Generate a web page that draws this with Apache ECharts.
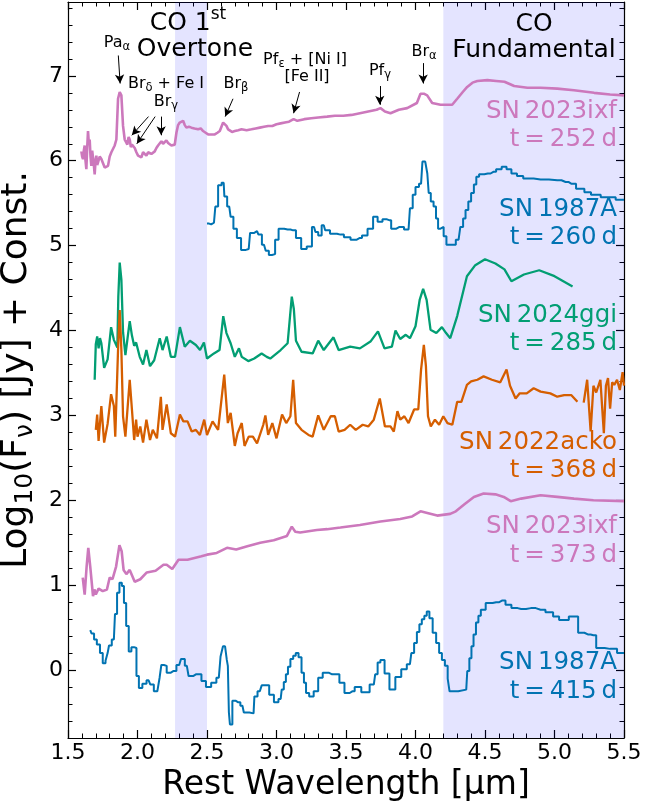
<!DOCTYPE html>
<html><head><meta charset="utf-8">
<script src="https://cdn.jsdelivr.net/npm/echarts@6/dist/echarts.min.js"></script>
<style>html,body{margin:0;padding:0;background:#fff}#c{width:668px;height:804px}</style>
</head><body><div id="c"></div>
<script>
// ---------------- DATA ----------------
const xTickValues = [1.5, 2.0, 2.5, 3.0, 3.5, 4.0, 4.5, 5.0, 5.5];
const yTickValues = [0, 1, 2, 3, 4, 5, 6, 7];
const coBands = [[2.27, 2.50], [4.20, 5.50]];

const sn2023ixf_252 = [[1.596,6.11],[1.602,6.05],[1.608,6.02],[1.614,6.12],[1.62,6.18],[1.626,6.00],[1.632,5.90],[1.638,6.15],[1.644,6.35],[1.65,6.20],[1.656,6.25],[1.662,6.05],[1.668,5.94],[1.674,6.12],[1.68,6.10],[1.686,5.95],[1.692,5.84],[1.698,6.00],[1.704,6.06],[1.71,5.95],[1.716,5.98],[1.728,6.05],[1.74,6.02],[1.752,5.97],[1.764,5.92],[1.776,5.90],[1.788,5.94],[1.80,6.05],[1.812,6.10],[1.824,6.12],[1.836,6.18],[1.848,6.25],[1.86,6.73],[1.872,6.81],[1.884,6.77],[1.896,6.41],[1.908,6.25],[1.918,6.22],[1.927,6.19],[1.936,6.28],[1.944,6.25],[1.952,6.16],[1.96,6.19],[1.97,6.20],[1.98,6.15],[1.992,6.10],[2.004,6.06],[2.016,6.07],[2.028,6.04],[2.04,6.10],[2.052,6.08],[2.064,6.06],[2.076,6.10],[2.088,6.12],[2.10,6.08],[2.112,6.10],[2.124,6.11],[2.136,6.15],[2.148,6.18],[2.16,6.16],[2.172,6.23],[2.184,6.20],[2.196,6.19],[2.208,6.24],[2.22,6.21],[2.232,6.22],[2.244,6.18],[2.256,6.20],[2.268,6.19],[2.28,6.33],[2.292,6.42],[2.304,6.45],[2.316,6.47],[2.328,6.47],[2.34,6.42],[2.352,6.39],[2.37,6.40],[2.388,6.39],[2.41,6.38],[2.436,6.37],[2.455,6.38],[2.472,6.35],[2.49,6.33],[2.508,6.31],[2.53,6.31],[2.556,6.31],[2.575,6.33],[2.592,6.35],[2.604,6.40],[2.616,6.45],[2.628,6.44],[2.64,6.41],[2.652,6.37],[2.664,6.35],[2.68,6.34],[2.70,6.35],[2.725,6.36],[2.748,6.37],[2.785,6.36],[2.82,6.37],[2.85,6.38],[2.88,6.39],[2.91,6.40],[2.94,6.41],[2.97,6.41],[3.0,6.43],[3.03,6.44],[3.06,6.45],[3.09,6.46],[3.123,6.49],[3.15,6.47],[3.2,6.49],[3.25,6.50],[3.3,6.51],[3.364,6.52],[3.42,6.53],[3.48,6.53],[3.54,6.54],[3.60,6.56],[3.66,6.58],[3.72,6.60],[3.748,6.62],[3.78,6.58],[3.82,6.56],[3.88,6.60],[3.94,6.62],[4.01,6.68],[4.036,6.79],[4.06,6.79],[4.084,6.77],[4.12,6.68],[4.18,6.66],[4.23,6.66],[4.264,6.66],[4.30,6.73],[4.34,6.81],[4.372,6.87],[4.41,6.92],[4.445,6.94],[4.517,6.95],[4.58,6.94],[4.64,6.93],[4.71,6.88],[4.805,6.86],[4.9,6.86],[5.02,6.85],[5.14,6.83],[5.285,6.80],[5.4,6.78],[5.50,6.77]];

const sn1987A_260 = [[2.50,5.26],[2.53,5.25],[2.55,5.27],[2.57,5.46],[2.59,5.71],[2.62,5.74],[2.63,5.58],[2.66,5.46],[2.68,5.34],[2.70,5.20],[2.73,5.09],[2.76,4.95],[2.80,4.96],[2.82,5.15],[2.86,5.17],[2.88,5.13],[2.91,5.01],[2.935,4.94],[2.955,4.89],[2.98,4.90],[3.00,5.07],[3.03,5.20],[3.08,5.19],[3.12,5.18],[3.16,5.09],[3.195,4.96],[3.24,4.99],[3.27,5.22],[3.29,5.16],[3.31,5.12],[3.34,5.24],[3.36,5.18],[3.41,5.14],[3.46,5.13],[3.51,5.10],[3.555,5.07],[3.60,5.09],[3.63,5.12],[3.68,5.20],[3.71,5.34],[3.745,5.28],[3.78,5.31],[3.81,5.30],[3.84,5.20],[3.885,5.22],[3.95,5.19],[3.97,5.44],[3.99,5.60],[4.01,5.69],[4.04,5.73],[4.06,5.99],[4.08,5.99],[4.09,5.85],[4.10,5.62],[4.12,5.52],[4.14,5.46],[4.155,5.32],[4.17,5.20],[4.19,5.22],[4.215,5.11],[4.23,5.01],[4.27,5.01],[4.31,5.07],[4.335,5.22],[4.35,5.32],[4.37,5.42],[4.39,5.52],[4.41,5.62],[4.43,5.72],[4.445,5.81],[4.47,5.84],[4.52,5.85],[4.56,5.87],[4.60,5.90],[4.64,5.93],[4.67,5.90],[4.71,5.85],[4.75,5.82],[4.80,5.79],[4.90,5.78],[5.02,5.77],[5.08,5.75],[5.12,5.73],[5.19,5.67],[5.24,5.63],[5.285,5.60],[5.38,5.57],[5.50,5.54]];

const sn2024ggi_285 = [[1.692,3.42],[1.70,3.84],[1.71,3.93],[1.72,3.79],[1.73,3.91],[1.74,3.85],[1.76,3.56],[1.785,3.66],[1.81,4.04],[1.83,3.89],[1.855,3.80],[1.862,4.40],[1.872,4.80],[1.884,4.60],[1.896,3.98],[1.913,3.71],[1.944,4.11],[1.96,3.94],[1.976,3.82],[1.99,3.86],[2.016,3.69],[2.04,3.60],[2.064,3.77],[2.09,3.58],[2.12,3.65],[2.16,3.91],[2.18,3.77],[2.21,3.93],[2.24,3.69],[2.27,3.69],[2.305,4.04],[2.34,3.81],[2.377,3.88],[2.42,3.83],[2.45,3.77],[2.478,3.86],[2.50,3.67],[2.55,3.73],[2.59,3.77],[2.617,4.17],[2.64,3.97],[2.67,3.85],[2.70,3.69],[2.73,3.79],[2.75,3.69],[2.797,3.64],[2.84,3.67],[2.893,3.73],[2.93,3.69],[2.955,3.67],[3.03,3.77],[3.08,3.85],[3.11,4.40],[3.125,4.25],[3.14,3.88],[3.18,3.75],[3.26,3.73],[3.30,3.88],[3.34,3.77],[3.41,3.92],[3.447,3.77],[3.53,3.81],[3.60,3.79],[3.676,3.87],[3.73,3.99],[3.777,3.79],[3.83,3.81],[3.856,4.00],[3.89,3.90],[3.93,3.95],[3.96,3.91],[4.0,4.05],[4.03,4.36],[4.055,4.49],[4.08,4.36],[4.108,4.01],[4.15,3.97],[4.19,4.04],[4.22,3.97],[4.25,3.91],[4.30,4.17],[4.37,4.64],[4.43,4.77],[4.50,4.84],[4.575,4.79],[4.64,4.72],[4.69,4.58],[4.78,4.66],[4.89,4.71],[5.00,4.64],[5.13,4.52]];

const sn2022acko_368 = [[1.70,2.83],[1.71,3.01],[1.72,2.70],[1.74,3.11],[1.76,2.68],[1.785,2.90],[1.81,3.25],[1.83,3.11],[1.84,2.75],[1.86,3.77],[1.872,4.24],[1.884,3.77],[1.896,2.99],[1.913,2.75],[1.944,3.42],[1.96,3.07],[1.976,2.71],[1.99,2.95],[2.00,2.75],[2.02,2.87],[2.04,2.68],[2.064,2.95],[2.09,2.71],[2.11,2.83],[2.14,2.73],[2.168,3.22],[2.18,2.83],[2.21,3.13],[2.24,2.79],[2.27,2.75],[2.305,3.01],[2.33,2.93],[2.36,2.93],[2.39,2.81],[2.42,2.83],[2.449,2.77],[2.48,2.95],[2.50,2.77],[2.54,2.93],[2.58,2.83],[2.624,3.48],[2.65,2.91],[2.67,3.03],[2.70,2.64],[2.72,2.79],[2.75,2.91],[2.77,2.64],[2.80,2.75],[2.83,2.75],[2.86,2.67],[2.905,2.89],[2.92,3.00],[2.94,2.77],[2.97,2.91],[3.0,2.73],[3.04,3.01],[3.07,2.91],[3.10,2.99],[3.12,3.42],[3.14,2.91],[3.18,2.83],[3.23,2.77],[3.26,2.75],[3.30,3.00],[3.34,2.83],[3.39,2.99],[3.42,2.99],[3.447,2.81],[3.49,2.83],[3.53,2.89],[3.57,2.83],[3.62,2.89],[3.66,2.87],[3.70,2.95],[3.743,3.20],[3.78,2.87],[3.82,2.87],[3.844,2.81],[3.87,3.05],[3.89,2.95],[3.92,2.99],[3.95,2.91],[3.99,3.07],[4.02,3.07],[4.04,3.54],[4.06,3.83],[4.075,3.58],[4.09,2.99],[4.11,2.87],[4.14,2.95],[4.17,2.89],[4.20,2.99],[4.23,2.91],[4.265,2.89],[4.30,3.16],[4.33,3.16],[4.37,3.36],[4.40,3.40],[4.445,3.42],[4.49,3.46],[4.55,3.42],[4.61,3.39],[4.655,3.54],[4.68,3.35],[4.72,3.20],[4.75,3.26],[4.80,3.26],[4.85,3.32],[4.90,3.28],[4.97,3.26],[5.02,3.22],[5.07,3.24],[5.12,3.24],[5.165,3.16],[5.19,'-'],[5.21,3.15],[5.235,3.42],[5.26,2.81],[5.28,3.35],[5.30,3.27],[5.33,3.42],[5.355,2.79],[5.37,3.35],[5.385,3.44],[5.40,3.08],[5.415,3.39],[5.43,3.36],[5.45,3.42],[5.47,3.30],[5.49,3.51],[5.50,3.35]];

const sn2023ixf_373 = [[1.606,1.09],[1.62,0.89],[1.634,1.22],[1.646,1.44],[1.66,1.22],[1.68,0.87],[1.69,0.95],[1.70,0.89],[1.72,0.96],[1.75,0.93],[1.78,0.95],[1.80,1.09],[1.82,1.07],[1.846,1.22],[1.87,1.47],[1.886,1.40],[1.90,1.18],[1.92,1.13],[1.944,1.18],[1.98,1.04],[2.02,1.07],[2.067,1.15],[2.13,1.17],[2.187,1.24],[2.21,1.24],[2.25,1.19],[2.295,1.30],[2.36,1.30],[2.41,1.32],[2.46,1.34],[2.50,1.36],[2.57,1.38],[2.644,1.44],[2.71,1.42],[2.79,1.46],[2.883,1.50],[2.98,1.53],[3.075,1.58],[3.11,1.69],[3.135,1.63],[3.17,1.62],[3.29,1.65],[3.364,1.66],[3.46,1.68],[3.60,1.71],[3.748,1.75],[3.89,1.78],[3.976,1.81],[4.036,1.87],[4.085,1.85],[4.156,1.82],[4.25,1.84],[4.29,1.87],[4.35,1.95],[4.42,2.04],[4.49,2.08],[4.575,2.07],[4.635,2.04],[4.685,1.99],[4.76,2.02],[4.90,2.06],[5.02,2.04],[5.14,2.02],[5.28,2.00],[5.50,1.99]];

const sn1987A_415 = [[1.66,0.47],[1.68,0.43],[1.695,0.36],[1.72,0.30],[1.74,0.20],[1.76,0.08],[1.78,0.11],[1.79,0.20],[1.80,0.29],[1.83,0.36],[1.846,0.66],[1.86,0.91],[1.88,1.03],[1.895,0.99],[1.91,0.79],[1.927,0.52],[1.947,0.22],[1.965,0.27],[1.985,0.26],[2.0,-0.07],[2.02,-0.21],[2.05,-0.16],[2.08,-0.12],[2.105,-0.17],[2.13,-0.25],[2.155,-0.25],[2.163,-0.09],[2.18,0.06],[2.20,0.05],[2.22,-0.03],[2.26,-0.01],[2.30,0.06],[2.326,0.13],[2.355,0.05],[2.38,-0.07],[2.42,-0.05],[2.445,-0.05],[2.475,-0.13],[2.51,-0.20],[2.55,-0.15],[2.585,-0.09],[2.61,0.16],[2.62,0.28],[2.64,0.28],[2.645,0.12],[2.655,0.05],[2.66,-0.50],[2.67,-0.64],[2.68,-0.64],[2.685,-0.36],[2.725,-0.38],[2.755,-0.42],[2.775,-0.50],[2.835,-0.51],[2.847,-0.31],[2.88,-0.25],[2.907,-0.18],[2.93,-0.18],[2.965,-0.29],[2.998,-0.38],[3.03,-0.34],[3.045,-0.23],[3.06,-0.14],[3.075,-0.05],[3.09,0.04],[3.11,0.13],[3.13,0.17],[3.147,0.20],[3.17,0.15],[3.19,-0.03],[3.205,-0.15],[3.22,-0.27],[3.25,-0.31],[3.285,-0.25],[3.315,-0.09],[3.35,-0.03],[3.40,-0.05],[3.435,-0.05],[3.47,-0.15],[3.508,-0.27],[3.545,-0.25],[3.58,-0.20],[3.64,-0.26],[3.70,-0.17],[3.72,-0.05],[3.735,0.09],[3.76,0.12],[3.795,-0.04],[3.83,-0.23],[3.88,-0.08],[3.915,0.01],[3.96,0.07],[3.98,0.20],[4.0,0.32],[4.02,0.45],[4.036,0.54],[4.055,0.60],[4.072,0.64],[4.09,0.69],[4.11,0.61],[4.137,0.44],[4.16,0.32],[4.18,0.20],[4.20,0.12],[4.223,0.05],[4.24,-0.10],[4.25,-0.25],[4.365,-0.23],[4.38,-0.01],[4.395,0.14],[4.41,0.28],[4.425,0.42],[4.445,0.56],[4.46,0.64],[4.48,0.71],[4.53,0.79],[4.58,0.80],[4.625,0.82],[4.67,0.77],[4.71,0.73],[4.76,0.72],[4.83,0.73],[4.90,0.71],[4.97,0.68],[5.01,0.63],[5.056,0.59],[5.15,0.63],[5.19,0.44],[5.24,0.42],[5.28,0.41],[5.32,0.26],[5.40,0.25],[5.50,0.20]];

// annotation arrows: [[xStart,yStart],[xEnd,yEnd]] in data units
const arrowSegs = [
  [[1.862,7.24],[1.875,6.91]],
  [[2.079,6.52],[1.959,6.30]],
  [[2.127,6.52],[1.995,6.20]],
  [[2.170,6.52],[2.170,6.30]],
  [[2.687,6.73],[2.631,6.52]],
  [[3.166,6.81],[3.123,6.56]],
  [[3.743,6.88],[3.743,6.66]],
  [[4.055,7.15],[4.055,6.91]]
];

const seriesNames = ['SN\u20092023ixf','SN\u20091987A','SN\u20092024ggi','SN\u20092022acko','SN\u20092023ixf','SN\u20091987A'];
const seriesEpochs = ['t\u2009=\u2009252\u2009d','t\u2009=\u2009260\u2009d','t\u2009=\u2009285\u2009d','t\u2009=\u2009368\u2009d','t\u2009=\u2009373\u2009d','t\u2009=\u2009415\u2009d'];

// ---------------- STYLE ----------------
const FONT = 'DejaVu Sans';
const PINK = '#CC78BC', BLUE = '#0173B2', GREEN = '#029E73', ORANGE = '#D55E00';
const curves = [
  {d: sn2023ixf_252, c: PINK, step: false, w: 2.6},
  {d: sn1987A_260, c: BLUE, step: 'middle', w: 2},
  {d: sn2024ggi_285, c: GREEN, step: false, w: 2.3},
  {d: sn2022acko_368, c: ORANGE, step: false, w: 2.3},
  {d: sn2023ixf_373, c: PINK, step: false, w: 2.6},
  {d: sn1987A_415, c: BLUE, step: 'middle', w: 2}
];
const labelColors = [PINK, BLUE, GREEN, ORANGE, PINK, BLUE];
const labelY = [[112,140],[210,238],[316,344],[443,471],[527,556],[663,692]];

const chart = echarts.init(document.getElementById('c'), null, {renderer: 'canvas'});

const axisLineStyle = {color: '#000', width: 1.2};
const isInt = v => Math.abs(v - Math.round(v)) < 1e-6;

const xBase = (pos, showLabel) => ({
  type: 'value', min: 1.5, max: 5.5, interval: 0.5, position: pos,
  axisLine: {show: true, onZero: false, lineStyle: axisLineStyle},
  axisTick: {show: true, inside: true, length: 8, lineStyle: {color: '#000', width: 1.2}},
  minorTick: {show: true, splitNumber: 5, length: 4.5, lineStyle: {color: '#000', width: 1}},
  splitLine: {show: false}, minorSplitLine: {show: false},
  axisLabel: {show: showLabel, customValues: xTickValues, formatter: v => v.toFixed(1), fontSize: 22, fontFamily: FONT, color: '#000', margin: 4}
});

const yMinor = (pos, showLabel) => ({
  type: 'value', min: -0.8, max: 7.87, interval: 0.2, position: pos,
  axisLine: {show: true, onZero: false, lineStyle: axisLineStyle},
  axisTick: {show: true, inside: true, length: 4.5, lineStyle: {color: '#000', width: 1}},
  splitLine: {show: false},
  axisLabel: {show: showLabel, fontSize: 22, fontFamily: FONT, color: '#000', margin: 5,
    formatter: v => isInt(v) ? String(Math.round(v)) : ''}
});
const yMajor = (pos) => ({
  type: 'value', min: -0.8, max: 7.87, position: pos,
  axisLine: {show: false},
  axisTick: {show: true, inside: true, length: 8, customValues: yTickValues, lineStyle: {color: '#000', width: 1.2}},
  splitLine: {show: false},
  axisLabel: {show: false}
});

const xAxes = [xBase('bottom', true), xBase('top', false)];
xAxes[0].name = 'Rest Wavelength [\u00b5m]';
xAxes[0].nameLocation = 'middle';
xAxes[0].nameGap = 26;
xAxes[0].nameTextStyle = {fontSize: 33, fontFamily: FONT, color: '#000'};

const yAxes = [yMinor('left', true), yMajor('left'), yMinor('right', false), yMajor('right')];
yAxes[0].name = '{n|Log}{s|10}{n|(F}{s|\u03bd}{n|) [Jy] + Const.}';
yAxes[0].nameLocation = 'middle';
yAxes[0].nameGap = 18;
yAxes[0].nameRotate = 90;
yAxes[0].nameTextStyle = {fontSize: 36, fontFamily: FONT, color: '#000',
  rich: {n: {fontSize: 36, fontFamily: FONT, color: '#000', lineHeight: 42},
         s: {fontSize: 25, fontFamily: FONT, color: '#000', lineHeight: 16, verticalAlign: 'bottom'}}};

const series = curves.map(cv => ({
  type: 'line', xAxisIndex: 0, yAxisIndex: 0, data: cv.d, showSymbol: false, symbol: 'none',
  step: cv.step, connectNulls: false, silent: true, animation: false, z: 3,
  lineStyle: {color: cv.c, width: cv.w}
}));

series.push({
  type: 'line', xAxisIndex: 0, yAxisIndex: 0, data: [], silent: true, animation: false, z: 1,
  markArea: {silent: true, itemStyle: {color: 'rgba(0,0,255,0.105)'},
    data: coBands.map(b => [{xAxis: b[0]}, {xAxis: b[1]}])},
  markLine: {silent: true, symbol: ['none', 'arrow'], symbolSize: [7, 9], animation: false,
    lineStyle: {color: '#000', width: 1, type: 'solid'}, label: {show: false},
    data: arrowSegs.map(s => [{coord: s[0]}, {coord: s[1]}])}
});

const annRich = {
  n: {fontSize: 16, fontFamily: FONT, color: '#000', lineHeight: 20},
  s: {fontSize: 11.5, fontFamily: FONT, color: '#000', lineHeight: 9, verticalAlign: 'bottom'}
};
const annotations = [
  ['{n|Pa}{s|\u03b1}', 117, 43],
  ['{n|Br}{s|\u03b4}{n| + Fe I}', 166, 84],
  ['{n|Br}{s|\u03b3}', 166, 102],
  ['{n|Br}{s|\u03b2}', 236, 84],
  ['{n|Pf}{s|\u03b5}{n| + [Ni I]}', 305, 60],
  ['{n|[Fe II]}', 307, 77],
  ['{n|Pf}{s|\u03b3}', 380, 71],
  ['{n|Br}{s|\u03b1}', 424, 52]
];

const graphic = [];
annotations.forEach(a => graphic.push({
  type: 'text', x: a[1], y: a[2], silent: true, z: 10,
  style: {text: a[0], rich: annRich, align: 'center', verticalAlign: 'middle'}
}));
// region titles
const bigRich = {
  n: {fontSize: 25, fontFamily: FONT, color: '#000', lineHeight: 28},
  sup: {fontSize: 17, fontFamily: FONT, color: '#000', lineHeight: 34, verticalAlign: 'top'}
};
graphic.push({type: 'text', x: 188, y: 23, silent: true, z: 10, style: {text: '{n|CO 1}{sup|st}', rich: bigRich, align: 'center', verticalAlign: 'middle'}});
graphic.push({type: 'text', x: 195, y: 49, silent: true, z: 10, style: {text: '{n|Overtone}', rich: bigRich, align: 'center', verticalAlign: 'middle'}});
graphic.push({type: 'text', x: 534, y: 24, silent: true, z: 10, style: {text: '{n|CO}', rich: bigRich, align: 'center', verticalAlign: 'middle'}});
graphic.push({type: 'text', x: 534, y: 50, silent: true, z: 10, style: {text: '{n|Fundamental}', rich: bigRich, align: 'center', verticalAlign: 'middle'}});
// series labels
seriesNames.forEach((nm, i) => {
  graphic.push({type: 'text', x: 617, y: labelY[i][0], silent: true, z: 10,
    style: {text: nm, fill: labelColors[i], font: '24.5px "DejaVu Sans"', align: 'right', verticalAlign: 'middle'}});
  graphic.push({type: 'text', x: 617, y: labelY[i][1], silent: true, z: 10,
    style: {text: seriesEpochs[i], fill: labelColors[i], font: '24.5px "DejaVu Sans"', align: 'right', verticalAlign: 'middle'}});
});

chart.setOption({
  animation: false,
  backgroundColor: '#fff',
  grid: {left: 68, right: 44, top: 2, bottom: 66, containLabel: false, outerBoundsMode: 'none'},
  xAxis: xAxes,
  yAxis: yAxes,
  series: series,
  graphic: graphic
});
</script></body></html>
